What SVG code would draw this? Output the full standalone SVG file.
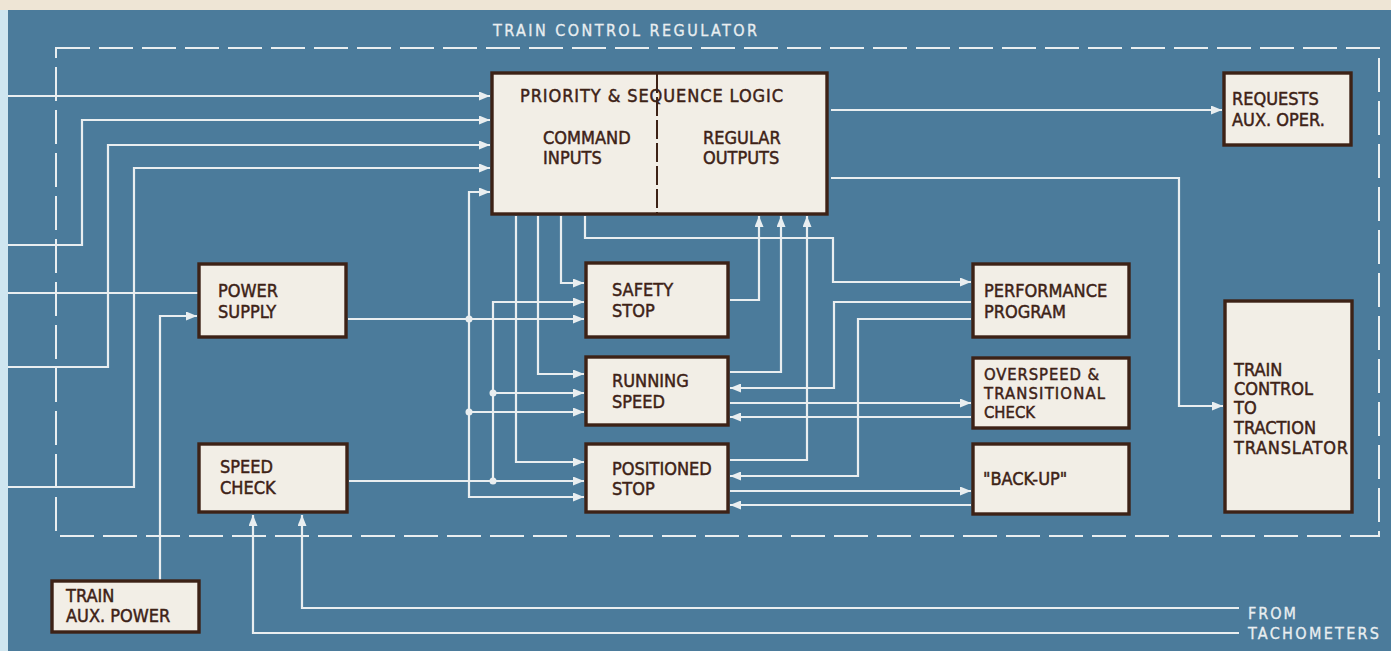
<svg xmlns="http://www.w3.org/2000/svg" width="1391" height="651" viewBox="0 0 1391 651">
<style>
.box{fill:#f2eee6;stroke:#3d2216;stroke-width:3.4}
.t{font-family:"DejaVu Sans Condensed","DejaVu Sans","Liberation Sans",sans-serif;font-stretch:condensed;font-size:18px;fill:#3d2216;stroke:#3d2216;stroke-width:0.45}
.s{font-size:16.5px}
.w{font-family:"DejaVu Sans Condensed","DejaVu Sans","Liberation Sans",sans-serif;font-stretch:condensed;font-size:16px;fill:#e9eef0;stroke:#e9eef0;stroke-width:0.3}
.c{fill:none;stroke:#e9eef0;stroke-width:2.2}
.a{marker-end:url(#ah)}
.dot{fill:#e9eef0}
</style>
<defs>
<marker id="ah" markerUnits="userSpaceOnUse" markerWidth="12" markerHeight="9" refX="11" refY="4.5" orient="auto">
<path d="M0,0 L11,4.5 L0,9 z" fill="#e9eef0"/>
</marker>
</defs>
<rect width="1391" height="651" fill="#4b7b9b"/>
<rect width="1391" height="10" fill="#eee5d5"/>
<rect x="0" y="10" width="8" height="641" fill="#cfe6f0"/>
<rect x="56" y="48" width="1323" height="488" fill="none" stroke="#e9eef0" stroke-width="2" stroke-dasharray="34 9"/>
<text class="w" x="493" y="36" textLength="264" lengthAdjust="spacing">TRAIN CONTROL REGULATOR</text>
<g id="connectors">
<path class="c a" d="M8,96 H490"/>
<path class="c a" d="M8,245 H82 V120 H490"/>
<path class="c a" d="M8,367 H108 V145 H490"/>
<path class="c a" d="M8,487 H134 V168 H490"/>
<path class="c" d="M8,293 H199"/>
<path class="c a" d="M160,581 V316 H197"/>
<path class="c a" d="M348,319 H584"/>
<path class="c a" d="M469,319 V192 H490"/>
<path class="c a" d="M469,319 V497 H584"/>
<path class="c a" d="M469,412 H584"/>
<path class="c a" d="M349,481 H584"/>
<path class="c a" d="M493,481 V302 H584"/>
<path class="c a" d="M493,393 H584"/>
<circle class="dot" cx="469" cy="319" r="3.5"/>
<circle class="dot" cx="469" cy="412" r="3.5"/>
<circle class="dot" cx="493" cy="481" r="3.5"/>
<circle class="dot" cx="493" cy="393" r="3.5"/>
<path class="c a" d="M516,216 V462 H584"/>
<path class="c a" d="M538,216 V374 H584"/>
<path class="c a" d="M561,216 V283 H584"/>
<path class="c a" d="M585,216 V238 H833 V282 H971"/>
<path class="c a" d="M730,300 H759 V216"/>
<path class="c a" d="M730,372 H781 V216"/>
<path class="c a" d="M730,460 H807 V216"/>
<path class="c a" d="M971,302 H834 V388 H730"/>
<path class="c a" d="M971,319 H858 V476 H730"/>
<path class="c a" d="M730,403 H971"/>
<path class="c a" d="M971,417 H730"/>
<path class="c a" d="M730,491 H971"/>
<path class="c a" d="M971,505 H730"/>
<path class="c a" d="M831,110 H1222"/>
<path class="c a" d="M831,178 H1179 V406 H1223"/>
<path class="c a" d="M1239,608 H302 V515"/>
<path class="c a" d="M1239,633 H253 V515"/>
</g>
<g id="priority">
<rect class="box" x="492" y="73" width="335" height="141"/>
<line x1="657" y1="74" x2="657" y2="213" stroke="#3d2216" stroke-width="2" stroke-dasharray="19 4"/>
<text class="t" x="520" y="102" textLength="263" lengthAdjust="spacing">PRIORITY &amp; SEQUENCE LOGIC</text>
<text class="t" x="543" y="144">COMMAND</text>
<text class="t" x="543" y="164">INPUTS</text>
<text class="t" x="703" y="144">REGULAR</text>
<text class="t" x="703" y="164">OUTPUTS</text>
</g>
<g id="requests">
<rect class="box" x="1224" y="73" width="127" height="72"/>
<text class="t" x="1232" y="105">REQUESTS</text>
<text class="t" x="1232" y="126">AUX. OPER.</text>
</g>
<g id="power-supply">
<rect class="box" x="199" y="264" width="147" height="73"/>
<text class="t" x="218" y="297">POWER</text>
<text class="t" x="218" y="318">SUPPLY</text>
</g>
<g id="speed-check">
<rect class="box" x="199" y="444" width="148" height="68"/>
<text class="t" x="220" y="473">SPEED</text>
<text class="t" x="220" y="494">CHECK</text>
</g>
<g id="train-aux-power">
<rect class="box" x="52" y="581" width="147" height="51"/>
<text class="t" x="66" y="602">TRAIN</text>
<text class="t" x="66" y="622">AUX. POWER</text>
</g>
<g id="safety-stop">
<rect class="box" x="586" y="263" width="142" height="74"/>
<text class="t" x="612" y="296">SAFETY</text>
<text class="t" x="612" y="317">STOP</text>
</g>
<g id="running-speed">
<rect class="box" x="586" y="357" width="142" height="68"/>
<text class="t" x="612" y="387">RUNNING</text>
<text class="t" x="612" y="408">SPEED</text>
</g>
<g id="positioned-stop">
<rect class="box" x="586" y="444" width="142" height="68"/>
<text class="t" x="612" y="475">POSITIONED</text>
<text class="t" x="612" y="495">STOP</text>
</g>
<g id="performance">
<rect class="box" x="973" y="264" width="156" height="73"/>
<text class="t" x="984" y="297">PERFORMANCE</text>
<text class="t" x="984" y="318">PROGRAM</text>
</g>
<g id="overspeed">
<rect class="box" x="973" y="358" width="156" height="70"/>
<text class="t s" x="984" y="380" textLength="115" lengthAdjust="spacing">OVERSPEED &amp;</text>
<text class="t s" x="984" y="399" textLength="121" lengthAdjust="spacing">TRANSITIONAL</text>
<text class="t s" x="984" y="418">CHECK</text>
</g>
<g id="back-up">
<rect class="box" x="973" y="444" width="156" height="70"/>
<text class="t" x="983" y="485">"BACK-UP"</text>
</g>
<g id="train-control">
<rect class="box" x="1225" y="301" width="127" height="211"/>
<text class="t" x="1234" y="376">TRAIN</text>
<text class="t" x="1234" y="395">CONTROL</text>
<text class="t" x="1234" y="414">TO</text>
<text class="t" x="1234" y="434">TRACTION</text>
<text class="t" x="1234" y="454" textLength="114" lengthAdjust="spacing">TRANSLATOR</text>
</g>
<g id="tachometers-label">
<text class="w" x="1248" y="619" textLength="48" lengthAdjust="spacing">FROM</text>
<text class="w" x="1248" y="639" textLength="131" lengthAdjust="spacing">TACHOMETERS</text>
</g>
</svg>
